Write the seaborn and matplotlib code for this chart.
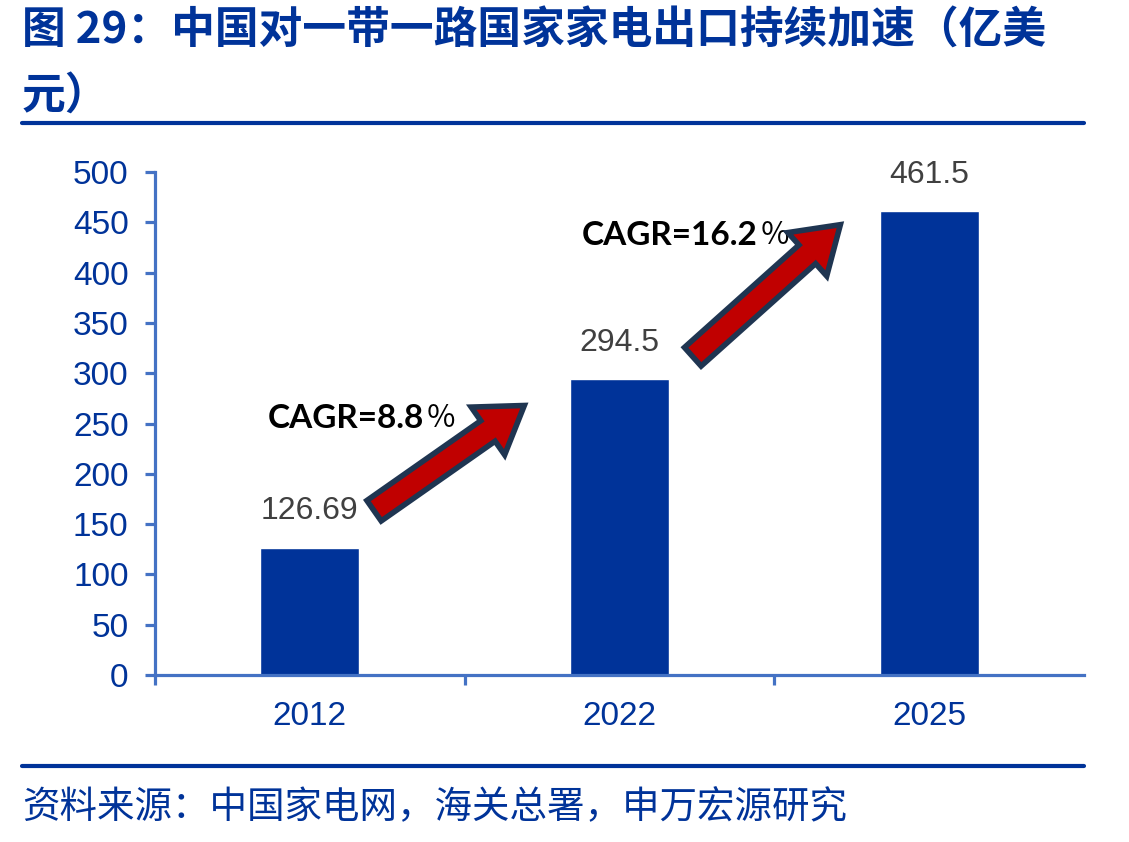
import matplotlib
matplotlib.use("Agg")
import matplotlib.pyplot as plt
from matplotlib.patches import FancyArrowPatch
from matplotlib.lines import Line2D
import seaborn as sns
import pandas as pd

# data
years = ["2012", "2022", "2025"]
values = [126.69, 294.5, 461.5]
value_labels = ["126.69", "294.5", "461.5"]
year_num = [2012, 2022, 2025]

title_1 = "图 29：中国对一带一路国家家电出口持续加速（亿美"
title_2 = "元）"
source = "资料来源：中国家电网，海关总署，申万宏源研究"

bar_blue = "#003399"
axis_blue = "#4472C4"
text_blue = "#003399"

sns.set_style("white")
plt.rcParams['font.family'] = ['Liberation Sans', 'Noto Sans CJK SC']

df = pd.DataFrame({"year": years, "value": values})

fig = plt.figure(figsize=(11.29, 8.42), dpi=100)
ax = fig.add_axes([155 / 1129, 1 - 675 / 842, 929 / 1129, 503 / 842])

sns.barplot(data=df, x="year", y="value", color=bar_blue, width=0.32,
            saturation=1, ax=ax)

ax.set_xlim(-0.5, 2.5)
ax.set_ylim(0, 500)
ax.set_xlabel("")
ax.set_ylabel("")

for s in ["top", "right"]:
    ax.spines[s].set_visible(False)
for s in ["left", "bottom"]:
    ax.spines[s].set_color(axis_blue)
    ax.spines[s].set_linewidth(2.3)

ax.set_yticks(range(0, 501, 50))
ax.tick_params(axis="y", colors=axis_blue, labelcolor=text_blue,
               labelsize=24, length=7, width=2.3, pad=12, left=True)
ax.set_xticks([0, 1, 2])
ax.set_xticklabels(years)
ax.tick_params(axis="x", which="major", length=0, labelcolor=text_blue,
               labelsize=24, pad=19)
ax.set_xticks([-0.5, 0.5, 1.5], minor=True)
ax.tick_params(axis="x", which="minor", colors=axis_blue, length=7,
               width=2.3, bottom=True)

# value labels above bars
for i, v in enumerate(values):
    ax.annotate(value_labels[i], (i, v), xytext=(0, 26),
                textcoords="offset points", ha="center", va="center",
                fontsize=23, color="#404040")

# CAGR arrows between bars
tail_off = [(0.2, 35), (0.23, 20)]
tip_off = [(-0.3, -25), (-0.28, -12)]
text_pos = [(-0.135, 255), (0.879, 437)]
for i in range(2):
    cagr = (values[i + 1] / values[i]) ** (1 / (year_num[i + 1] - year_num[i])) - 1
    tail = (i + tail_off[i][0], values[i] + tail_off[i][1])
    tip = (i + 1 + tip_off[i][0], values[i + 1] + tip_off[i][1])
    arr = FancyArrowPatch(tail, tip,
                          arrowstyle="simple,head_length=3.2,head_width=4.2,tail_width=1.8",
                          mutation_scale=10, facecolor="#C00000",
                          edgecolor="#1F3551", linewidth=4, zorder=5,
                          joinstyle="miter")
    ax.add_patch(arr)
    t = ax.text(text_pos[i][0], text_pos[i][1], "CAGR=%.1f" % (cagr * 100),
                fontsize=24, fontweight="bold", color="black",
                family=["Lato", "Noto Sans CJK SC"], ha="left", va="center")
    ax.annotate("％", xy=(1, 0.5), xycoords=t, xytext=(1, 0),
                textcoords="offset points", fontsize=22, color="black",
                family=["Noto Sans CJK SC"], fontweight="light",
                ha="left", va="center")

# title and source
fig.text(22 / 1129, 1 - 31 / 842, title_1, fontsize=31.5, fontweight="bold",
         color=text_blue, family=["Noto Sans CJK SC", "DejaVu Sans"],
         va="center", ha="left")
fig.text(22 / 1129, 1 - 97 / 842, title_2, fontsize=31.5, fontweight="bold",
         color=text_blue, family=["Noto Sans CJK SC", "DejaVu Sans"],
         va="center", ha="left")
fig.add_artist(Line2D([22 / 1129, 1084 / 1129], [1 - 123 / 842, 1 - 123 / 842],
                      color=text_blue, linewidth=3, transform=fig.transFigure))
fig.add_artist(Line2D([22 / 1129, 1084 / 1129], [1 - 766 / 842, 1 - 766 / 842],
                      color=text_blue, linewidth=3, transform=fig.transFigure))
fig.text(22 / 1129, 1 - 808 / 842, source, fontsize=27, color=text_blue,
         family=["Noto Sans CJK SC", "DejaVu Sans"], va="center", ha="left")

fig.savefig("out.png", dpi=100)
